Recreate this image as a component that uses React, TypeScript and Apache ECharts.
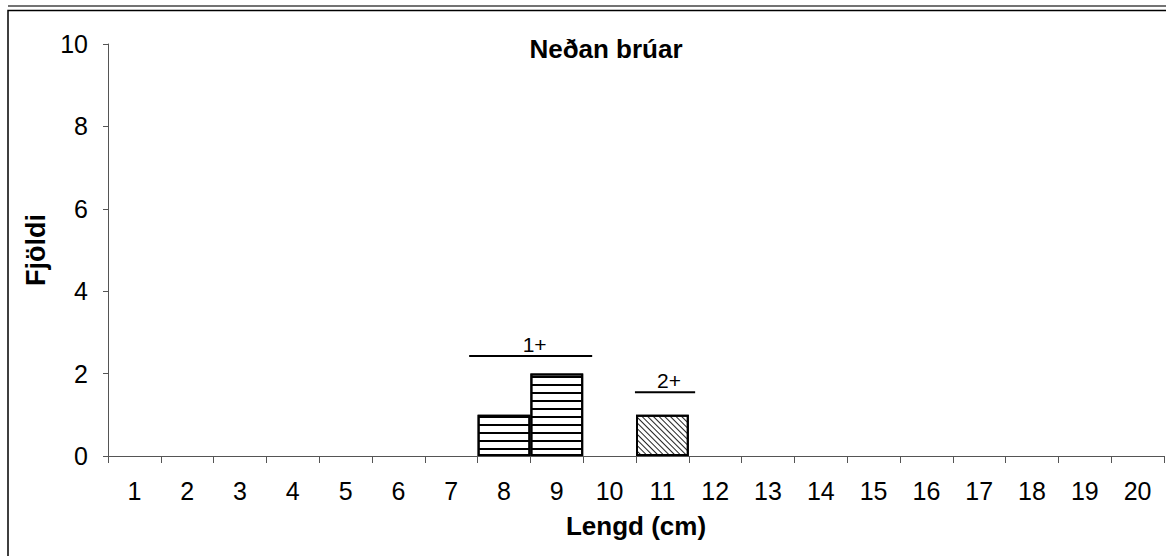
import React, { useEffect, useRef } from "react";
import * as echarts from "echarts";

const categories = ["1","2","3","4","5","6","7","8","9","10","11","12","13","14","15","16","17","18","19","20"];
const age1Values = [null,null,null,null,null,null,null,1,2,null,null,null,null,null,null,null,null,null,null,null];
const age2Values = [null,null,null,null,null,null,null,null,null,null,1,null,null,null,null,null,null,null,null,null];
const bracketLabels = ["1+", "2+"];
const bracketFrom = [7.34, 10.48];
const bracketTo = [9.67, 11.62];
const bracketLevel = [2.43, 1.55];
const yTicks = { min: 0, max: 10, interval: 2 };

const FONT = "'Liberation Sans', Arial, sans-serif";

export default function App() {
  const ref = useRef<HTMLDivElement>(null);
  useEffect(() => {
    if (!ref.current) return;
    const chart = echarts.init(ref.current, null, { renderer: "svg" });
    const axisColor = "#555";
    const bracketData = bracketLabels.map((l, i) => [bracketFrom[i], bracketTo[i], bracketLevel[i], l]);
    chart.setOption({
      animation: false,
      backgroundColor: "#fff",
      aria: { enabled: true, decal: { show: true } },
      textStyle: { fontFamily: FONT },
      grid: { left: 108, top: 44, right: 2, bottom: 100, containLabel: false },
      graphic: [
        { type: "line", shape: { x1: 8, y1: 6, x2: 1170, y2: 6 }, style: { stroke: "#444", lineWidth: 1.5 } },
        { type: "rect", shape: { x: 8, y: 10.5, width: 1200, height: 600 }, style: { stroke: "#000", lineWidth: 1.5, fill: "none" } },
        { type: "text", x: 606, y: 49, style: { text: "Neðan brúar", font: `bold 26px ${FONT}`, fill: "#000", align: "center", verticalAlign: "middle" } },
      ],
      xAxis: {
        type: "category",
        data: categories,
        name: "Lengd (cm)",
        nameLocation: "middle",
        nameGap: 57,
        nameTextStyle: { fontSize: 26, fontWeight: "bold", color: "#000", fontFamily: FONT },
        axisLine: { lineStyle: { color: axisColor, width: 1 } },
        axisTick: { show: true, length: 7, lineStyle: { color: axisColor } },
        axisLabel: { fontSize: 25, color: "#000", margin: 22, fontFamily: FONT },
        splitLine: { show: false },
      },
      yAxis: {
        type: "value",
        min: yTicks.min,
        max: yTicks.max,
        interval: yTicks.interval,
        name: "Fjöldi",
        nameLocation: "middle",
        nameGap: 56,
        nameTextStyle: { fontSize: 27, fontWeight: "bold", color: "#000", fontFamily: FONT },
        axisLine: { show: true, lineStyle: { color: axisColor, width: 1 } },
        axisTick: { show: true, length: 5, lineStyle: { color: axisColor } },
        axisLabel: { fontSize: 25, color: "#000", margin: 20, fontFamily: FONT },
        splitLine: { show: false },
      },
      series: [
        {
          type: "bar",
          name: "1+",
          data: age1Values,
          stack: "all",
          barCategoryGap: 0,
          itemStyle: {
            color: "#fff",
            borderColor: "#000",
            borderWidth: 2,
            decal: {
              symbol: "rect",
              symbolSize: 1,
              dashArrayX: [1, 0],
              dashArrayY: [1.4, 5.27],
              rotation: 0,
              color: "#000",
              backgroundColor: "#fff",
            },
          },
        },
        {
          type: "bar",
          name: "2+",
          data: age2Values,
          stack: "all",
          barCategoryGap: 0,
          itemStyle: {
            color: "#fff",
            borderColor: "#000",
            borderWidth: 2,
            decal: {
              symbol: "rect",
              symbolSize: 1,
              dashArrayX: [1, 0],
              dashArrayY: [1, 2.3],
              rotation: Math.PI / 4,
              color: "#222",
              backgroundColor: "#fff",
            },
          },
        },
        {
          type: "custom",
          name: "brackets",
          data: bracketData,
          silent: true,
          renderItem: (params: any, api: any) => {
            const bw = api.size([1, 0])[0];
            const from = api.value(0) as number;
            const to = api.value(1) as number;
            const lvl = api.value(2) as number;
            const label = bracketLabels[params.dataIndex];
            const c0 = api.coord([0, lvl]);
            const x1 = c0[0] + (from - 1) * bw;
            const x2 = c0[0] + (to - 1) * bw;
            const y = c0[1];
            return {
              type: "group",
              children: [
                { type: "line", shape: { x1, y1: y, x2, y2: y }, style: { stroke: "#000", lineWidth: 2 } },
                {
                  type: "text",
                  x: (x1 + x2) / 2 + 4,
                  y: y - 1,
                  style: { text: label, font: `21px ${FONT}`, fill: "#000", align: "center", verticalAlign: "bottom" },
                },
              ],
            };
          },
          z: 10,
        },
      ],
    });
    return () => chart.dispose();
  }, []);
  return <div ref={ref} style={{ position: "fixed", left: 0, top: 0, width: 1166, height: 556, background: "#fff" }} />;
}
